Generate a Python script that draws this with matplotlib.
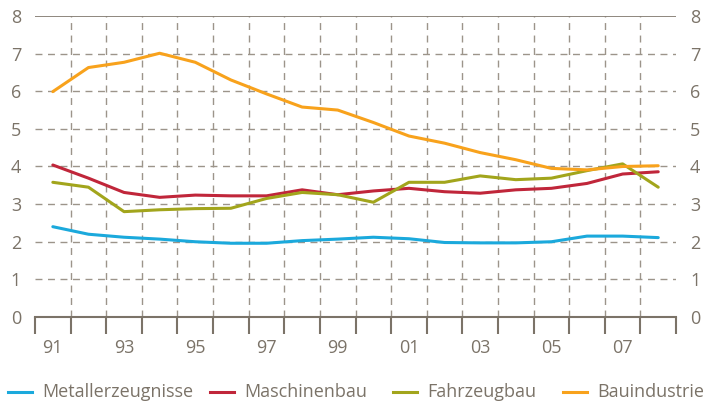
import numpy as np
import matplotlib
matplotlib.use("Agg")
import matplotlib.pyplot as plt
from matplotlib.lines import Line2D

# ---------------- DATA ----------------
years = ["91", "92", "93", "94", "95", "96", "97", "98", "99",
         "00", "01", "02", "03", "04", "05", "06", "07", "08"]

metall = [2.40, 2.20, 2.12, 2.07, 2.00, 1.96, 1.96, 2.03, 2.07,
          2.12, 2.08, 1.98, 1.97, 1.97, 2.00, 2.15, 2.15, 2.11]
maschinen = [4.04, 3.69, 3.31, 3.18, 3.24, 3.22, 3.22, 3.38, 3.25,
             3.35, 3.42, 3.33, 3.29, 3.38, 3.42, 3.55, 3.80, 3.86]
fahrzeug = [3.58, 3.45, 2.80, 2.85, 2.88, 2.89, 3.15, 3.31, 3.25,
            3.05, 3.58, 3.58, 3.75, 3.65, 3.69, 3.89, 4.07, 3.45]
bau = [5.99, 6.63, 6.77, 7.01, 6.77, 6.30, 5.93, 5.58, 5.50,
       5.17, 4.81, 4.62, 4.37, 4.18, 3.95, 3.91, 4.00, 4.02]

series_names = ["Metallerzeugnisse", "Maschinenbau", "Fahrzeugbau", "Bauindustrie"]
colors = ["#1ba9dc", "#c0263a", "#a2a51c", "#f8a21c"]

text_col = "#7b7368"
grid_col = "#9c948a"

plt.rcParams["font.family"] = ["Open Sans", "DejaVu Sans"]

# ---------------- PLOT ----------------
W, H = 709, 403
fig = plt.figure(figsize=(W / 100, H / 100), dpi=100)
ax = fig.add_axes([0.0494, 0.2134, 0.9041, 0.7469])

x = np.arange(len(years))
for vals, name, c in zip([metall, maschinen, fahrzeug, bau], series_names, colors):
    ax.plot(x, vals, color=c, lw=2.2, label=name, solid_capstyle="round")

ax.set_xlim(-0.5, len(years) - 0.5)
ax.set_ylim(0, 8)

# grid: horizontal dashed, vertical dashed at category borders
for yv in range(1, 8):
    ax.axhline(yv, color=grid_col, lw=1, ls=(0, (5, 4)), zorder=0)
for b in np.arange(0.5, len(years) - 0.5, 1):
    ax.axvline(b, color=grid_col, lw=1, ls=(0, (5, 4)), zorder=0)
ax.axhline(8, color=text_col, lw=1.2, zorder=0)

for s in ["left", "right", "top"]:
    ax.spines[s].set_visible(False)
ax.spines["bottom"].set_color(text_col)
ax.spines["bottom"].set_linewidth(1.5)

ax.set_xticks(x[::2])
ax.set_xticklabels(years[::2])
ax.set_xticks(np.arange(-0.5, len(years), 1), minor=True)
ax.tick_params(axis="x", which="major", length=0, pad=16, labelsize=13, labelcolor=text_col)
ax.tick_params(axis="x", which="minor", length=12, width=1.5, color=text_col)

ax.set_yticks(range(0, 9))
ax.tick_params(axis="y", length=0, labelsize=13, labelcolor=text_col,
               labelleft=True, labelright=True, pad=10)

# ---------------- LEGEND (manual placement) ----------------
leg_y = (H - 392) / H
handle_x = [8, 210, 393, 563]
for hx, name, c in zip(handle_x, series_names, colors):
    fig.add_artist(Line2D([hx / W, (hx + 24) / W], [leg_y, leg_y],
                          color=c, lw=2.2, transform=fig.transFigure))
    fig.text((hx + 34) / W, leg_y, name, color=text_col, fontsize=13,
             va="center", ha="left")

plt.savefig("out.png", dpi=100)
